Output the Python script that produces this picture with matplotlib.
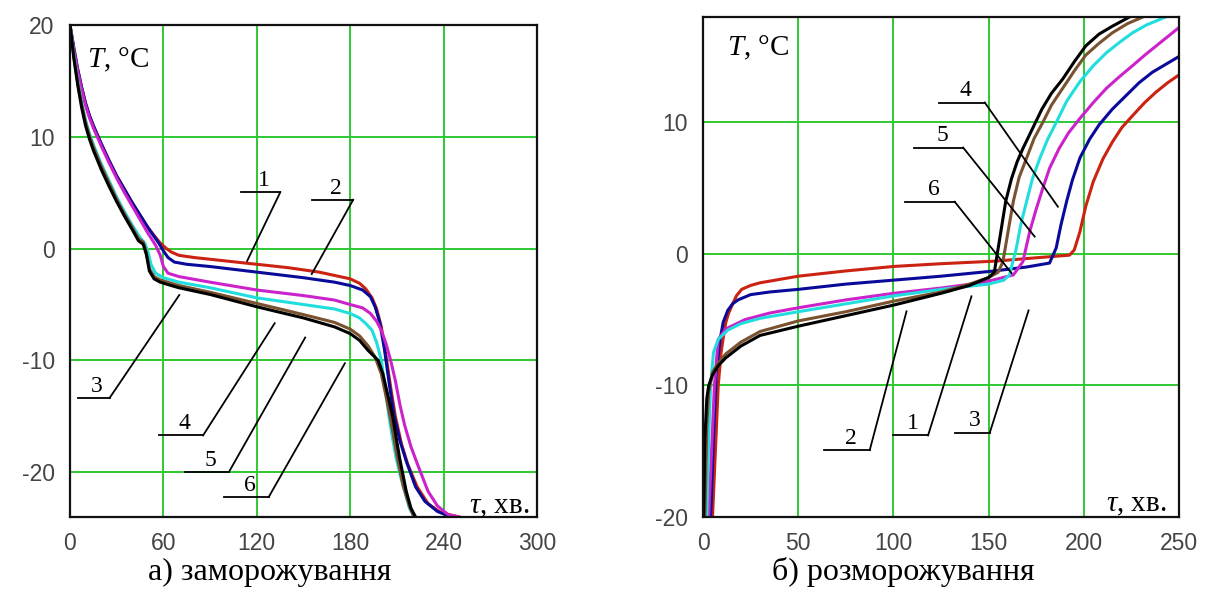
import matplotlib
matplotlib.use("Agg")
import matplotlib.pyplot as plt

plt.rcParams['mathtext.fontset'] = 'custom'
plt.rcParams['mathtext.rm'] = 'Liberation Serif'
plt.rcParams['mathtext.it'] = 'Liberation Serif:italic'
plt.rcParams['axes.unicode_minus'] = False

# ---------------- data: freezing (a) ----------------
fr_red_x = [0, 2.5, 5, 7.5, 10, 12.5, 15, 20, 25, 30, 35, 40, 45, 50, 55, 58, 62, 65, 70, 80, 100, 120, 140, 160, 170, 180, 186, 190, 194, 197, 200, 203, 206, 209, 213, 217, 223, 230, 238, 250]
fr_red_y = [20, 17.9, 16.0, 14.4, 13.0, 11.9, 11.0, 9.4, 7.9, 6.5, 5.3, 4.1, 3.0, 1.9, 1.0, 0.5, 0.0, -0.3, -0.6, -0.8, -1.1, -1.4, -1.7, -2.1, -2.4, -2.7, -3.1, -3.6, -4.4, -5.4, -7.0, -9.6, -12.4, -15.0, -17.5, -19.3, -21.3, -22.8, -23.6, -24]

fr_blue_x = [0, 2.5, 5, 7.5, 10, 12.5, 15, 20, 25, 30, 35, 40, 45, 50, 55, 57, 60, 63, 67, 75, 90, 120, 150, 170, 180, 188, 193, 196, 199, 202, 205, 208, 212, 216, 222, 228, 236, 245]
fr_blue_y = [20, 17.9, 16.0, 14.4, 13.0, 11.9, 11.0, 9.4, 7.9, 6.5, 5.3, 4.1, 3.0, 1.9, 0.9, 0.5, -0.2, -0.8, -1.2, -1.4, -1.6, -2.1, -2.6, -3.0, -3.3, -3.7, -4.3, -5.2, -6.6, -9.0, -12.0, -14.8, -17.2, -19.0, -21.3, -22.6, -23.5, -24]

fr_mag_x = [0, 2.5, 5, 7.5, 10, 12.5, 15, 20, 25, 30, 35, 40, 45, 50, 55, 58, 60, 63, 70, 90, 120, 150, 170, 180, 188, 193, 197, 200, 203, 206, 209, 212, 215, 219, 223, 230, 236, 243, 250]
fr_mag_y = [20, 17.7, 15.8, 14.2, 12.8, 11.7, 10.8, 9.2, 7.7, 6.3, 5.0, 3.8, 2.6, 1.4, 0.3, -0.6, -1.6, -2.2, -2.5, -3.0, -3.7, -4.2, -4.6, -5.0, -5.3, -5.8, -6.5, -7.3, -8.5, -10.0, -11.8, -14.0, -15.8, -17.7, -19.2, -21.7, -23.0, -23.8, -24]

fr_cyan_x = [0, 2.5, 5, 7.5, 10, 12.5, 15, 20, 25, 30, 35, 40, 45, 48, 50, 52, 55, 60, 70, 90, 120, 150, 170, 180, 186, 190, 194, 197, 200, 203, 205, 207, 209.5, 212, 215, 218, 221]
fr_cyan_y = [20, 17.3, 15.0, 13.1, 11.5, 10.3, 9.3, 7.6, 6.1, 4.6, 3.3, 2.1, 1.0, 0.5, -0.2, -1.4, -2.2, -2.6, -3.0, -3.5, -4.4, -5.0, -5.4, -5.8, -6.2, -6.7, -7.3, -8.4, -10.0, -13.0, -15.1, -16.8, -18.7, -20.2, -21.7, -23.2, -24]

fr_brown_x = [0, 2.5, 5, 7.5, 10, 12.5, 15, 20, 25, 30, 35, 40, 44, 47, 49, 51, 54, 58, 65, 70, 90, 120, 150, 170, 180, 186, 191.5, 196, 200, 203, 206, 210, 214, 218, 221]
fr_brown_y = [20, 17.1, 14.8, 12.9, 11.3, 10.1, 9.1, 7.4, 5.9, 4.4, 3.1, 1.9, 0.9, 0.6, -0.3, -1.8, -2.5, -2.8, -3.1, -3.3, -3.9, -4.9, -5.9, -6.6, -7.2, -7.8, -8.7, -9.7, -11.2, -13.2, -15.3, -18.5, -21.2, -23.0, -24]

fr_black_x = [0, 2.5, 5, 7.5, 10, 12.5, 15, 20, 25, 30, 35, 40, 44, 47, 49, 51, 54, 58, 65, 70, 90, 120, 150, 170, 180, 186, 191.5, 198, 201, 204, 207.4, 211.7, 216, 219, 222]
fr_black_y = [20, 17.0, 14.6, 12.6, 11.0, 9.8, 8.8, 7.1, 5.6, 4.2, 2.9, 1.7, 0.7, 0.4, -0.5, -2.0, -2.7, -3.0, -3.3, -3.5, -4.1, -5.2, -6.2, -7.0, -7.6, -8.2, -9.1, -10.0, -11.2, -13.0, -15.1, -18.7, -21.7, -23.2, -24]

# ---------------- data: thawing (b) ----------------
th_red_x = [5, 6.5, 8, 9.5, 10.5, 12, 13.5, 15, 17.5, 20.3, 25, 30, 50, 75, 100, 125, 154, 175, 192.5, 195, 198, 201, 205, 210, 215, 220, 225.6, 232, 238, 244, 250]
th_red_y = [-20, -15, -10, -7.5, -6.5, -5.2, -4.5, -4.0, -3.2, -2.7, -2.4, -2.2, -1.7, -1.3, -0.96, -0.75, -0.55, -0.3, -0.1, 0.3, 1.7, 3.6, 5.5, 7.2, 8.5, 9.6, 10.5, 11.5, 12.3, 13.0, 13.6]

th_blue_x = [4, 5.5, 7, 9, 10.6, 13, 15.5, 18.4, 25, 35, 50, 75, 100, 125, 153, 170, 182, 185.5, 188, 191, 194, 198, 203, 208, 215, 222, 229, 236, 243, 250]
th_blue_y = [-20, -14, -9, -6.5, -5.2, -4.3, -3.8, -3.5, -3.1, -2.9, -2.7, -2.3, -2.0, -1.7, -1.3, -1.0, -0.7, 0.45, 2.2, 4.0, 5.6, 7.3, 8.7, 9.8, 11.0, 12.0, 13.0, 13.8, 14.4, 15.0]

th_mag_x = [3, 4.5, 6, 8, 12, 22, 35, 50, 75, 100, 125, 146, 155, 163, 168, 171.6, 175, 178.5, 182, 187, 192, 198, 205, 212, 219, 225.6, 232, 238, 244, 250]
th_mag_y = [-20, -15, -10, -6.5, -5.7, -5.0, -4.5, -4.1, -3.5, -3.0, -2.6, -2.2, -1.9, -1.6, -0.6, 1.7, 3.4, 5.0, 6.5, 8.0, 9.2, 10.3, 11.5, 12.6, 13.5, 14.3, 15.1, 15.8, 16.5, 17.2]

th_cyan_x = [2, 3, 4, 5.5, 8, 13, 20, 30, 50, 75, 100, 125, 150, 158, 161, 164.6, 167, 170, 173, 177, 181, 185.6, 191, 198, 205, 212, 219, 225.6, 233, 243]
th_cyan_y = [-20, -14, -10, -7.5, -6.5, -5.8, -5.3, -4.9, -4.4, -3.8, -3.2, -2.7, -2.3, -2.0, -1.6, 0.45, 2.3, 4.0, 5.7, 7.3, 8.7, 10.0, 11.6, 13.1, 14.3, 15.3, 16.1, 16.8, 17.4, 18.0]

th_brown_x = [1, 2, 3, 5, 8, 12, 20, 30, 50, 75, 100, 125, 140, 150, 155, 157.5, 160, 163, 166, 170, 174, 178.5, 183, 189, 195, 201, 208, 215, 223, 231]
th_brown_y = [-20, -13, -10.5, -9.0, -8.3, -7.6, -6.7, -5.9, -5.1, -4.4, -3.6, -2.9, -2.3, -1.8, -1.4, -0.6, 1.5, 4.0, 5.8, 7.3, 8.8, 10.0, 11.3, 12.6, 13.9, 15.1, 16.0, 16.8, 17.5, 18.0]

th_black_x = [0.3, 1, 2, 3, 5, 8, 12, 20, 30, 50, 75, 100, 125, 140, 150, 153, 155, 157, 159, 162, 165, 168, 172, 178, 183, 189, 195, 201, 208, 215, 224]
th_black_y = [-20, -14, -11, -10, -9.2, -8.5, -7.9, -7.0, -6.2, -5.5, -4.7, -3.9, -3.0, -2.4, -1.8, -1.4, 0.4, 2.2, 4.0, 5.7, 7.0, 8.0, 9.2, 11.0, 12.2, 13.3, 14.6, 15.8, 16.7, 17.3, 18.0]

colors = ['#cc2211', '#0a0a9a', '#cc22cc', '#22dddd', '#7a5230', '#000000']

fr_ticks_x = [0, 60, 120, 180, 240, 300]
fr_ticks_y = [-20, -10, 0, 10, 20]
th_ticks_x = [0, 50, 100, 150, 200, 250]
th_ticks_y = [-20, -10, 0, 10]

caption_a = 'а) заморожування'
caption_b = 'б) розморожування'
curve_labels = ['1', '2', '3', '4', '5', '6']

# ---------------- figure ----------------
fig = plt.figure(figsize=(12.08, 6.03), dpi=100)
axA = fig.add_axes([70 / 1208, 1 - 517 / 603, 467 / 1208, 492 / 603])
axB = fig.add_axes([703 / 1208, 1 - 517 / 603, 476 / 1208, 500 / 603])

grid_c = '#30c830'
fr_series = [(fr_red_x, fr_red_y), (fr_blue_x, fr_blue_y), (fr_mag_x, fr_mag_y),
             (fr_cyan_x, fr_cyan_y), (fr_brown_x, fr_brown_y), (fr_black_x, fr_black_y)]
th_series = [(th_red_x, th_red_y), (th_blue_x, th_blue_y), (th_mag_x, th_mag_y),
             (th_cyan_x, th_cyan_y), (th_brown_x, th_brown_y), (th_black_x, th_black_y)]

for (xs, ys), c in zip(fr_series, colors):
    axA.plot(xs, ys, color=c, lw=2.2, solid_joinstyle='round')
for (xs, ys), c in zip(th_series, colors):
    axB.plot(xs, ys, color=c, lw=2.2, solid_joinstyle='round')

axA.set_xlim(0, 300)
axA.set_ylim(-24, 20)
axA.set_xticks(fr_ticks_x)
axA.set_yticks(fr_ticks_y)
axB.set_xlim(0, 250)
axB.set_ylim(-20, 18)
axB.set_xticks(th_ticks_x)
axB.set_yticks(th_ticks_y)

for ax in (axA, axB):
    ax.grid(True, color=grid_c, lw=1.4)
    ax.set_axisbelow(True)
    for s in ax.spines.values():
        s.set_color('#111111')
        s.set_linewidth(1.6)
    ax.tick_params(length=0, pad=11, labelsize=16.5, labelcolor='#444444')
    for lab in ax.get_xticklabels() + ax.get_yticklabels():
        lab.set_family('Liberation Sans')


def leader(ax, x0, x1, yh, xe, ye, label):
    ax.plot([x0, x1], [yh, yh], color='black', lw=1.3, clip_on=False)
    ax.plot([x1, xe], [yh, ye], color='black', lw=1.3, clip_on=False)
    ax.text((x0 + x1) / 2 + (x1 - x0) * 0.08, yh + 0.1, label, ha='center', va='bottom',
            family='Liberation Serif', fontsize=17)


# annotations on panel a
leader(axA, 109.6, 135.1, 5.05, 113.8, -1.1, curve_labels[0])
leader(axA, 155.3, 181.9, 4.37, 155.3, -2.27, curve_labels[1])
leader(axA, 5.3, 25.5, -13.34, 70.2, -4.15, curve_labels[2])
leader(axA, 57.0, 85.5, -16.7, 131.5, -6.67, curve_labels[3])
leader(axA, 73.8, 102.1, -19.97, 151.1, -7.95, curve_labels[4])
leader(axA, 98.9, 127.7, -22.2, 176.6, -10.25, curve_labels[5])

# annotations on panel b
leader(axB, 63.6, 87.6, -14.9, 106.9, -4.37, curve_labels[1])
leader(axB, 99.8, 118.2, -13.8, 141.0, -3.23, curve_labels[0])
leader(axB, 132.2, 150.6, -13.6, 171.0, -4.3, curve_labels[2])
leader(axB, 124.0, 148.0, 11.5, 186.4, 3.58, curve_labels[3])
leader(axB, 110.9, 136.6, 8.08, 174.2, 1.31, curve_labels[4])
leader(axB, 106.0, 132.2, 3.96, 162.0, -1.46, curve_labels[5])

# axis titles inside
axA.text(10.9, 16.2, r'$T$, °C', fontsize=21, family='Liberation Serif', ha='left', va='baseline')
axB.text(12.6, 15.1, r'$T$, °C', fontsize=21, family='Liberation Serif', ha='left', va='baseline')
axA.text(295.5, -23.7, r'$\tau$, хв.', fontsize=21, family='Liberation Serif', ha='right', va='baseline')
axB.text(243.4, -19.55, r'$\tau$, хв.', fontsize=21, family='Liberation Serif', ha='right', va='baseline')

# captions
fig.text(148 / 1208, 1 - 580 / 603, caption_a, ha='left', va='baseline',
         family='Liberation Serif', fontsize=23)
fig.text(772 / 1208, 1 - 580 / 603, caption_b, ha='left', va='baseline',
         family='Liberation Serif', fontsize=23)

fig.savefig('out.png', dpi=100, facecolor='white')
